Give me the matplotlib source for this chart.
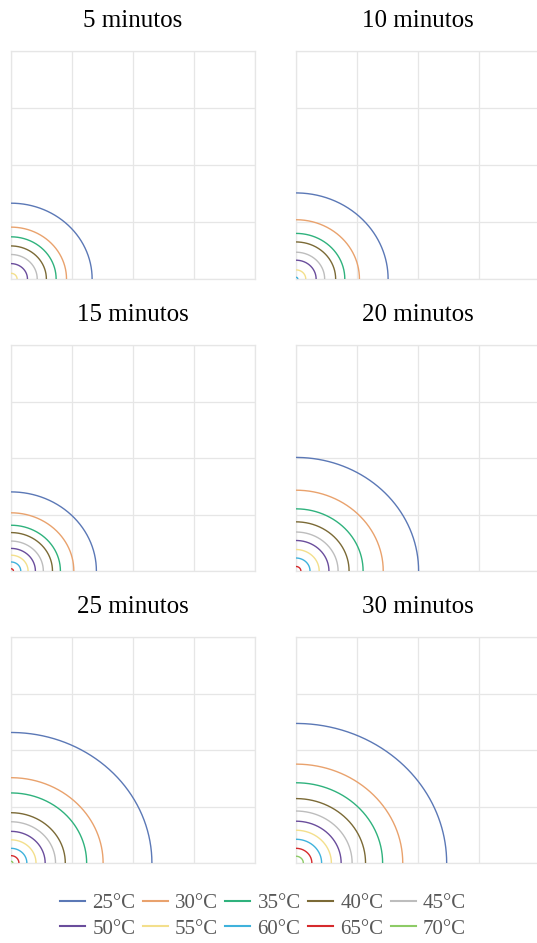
import numpy as np
import matplotlib
matplotlib.use("Agg")
import matplotlib.pyplot as plt
from matplotlib.lines import Line2D

plt.rcParams["font.family"] = ["Liberation Serif", "DejaVu Serif"]

# ── Data: front radius per temperature for each exposure time ──────────────────
temps = ["25°C", "30°C", "35°C", "40°C", "45°C",
         "50°C", "55°C", "60°C", "65°C", "70°C"]
colors = ["#5b78b6", "#e9a26d", "#2fb27d", "#7b6a36", "#bdbdbd",
          "#6a4d9c", "#f3df8c", "#3fb2dc", "#d62a2c", "#8dcb66"]

titles = ["5 minutos", "10 minutos", "15 minutos",
          "20 minutos", "25 minutos", "30 minutos"]

r_05 = [1.33, 0.91, 0.74, 0.58, 0.43, 0.27, 0.10, 0.00, 0.00, 0.00]
r_10 = [1.51, 1.04, 0.80, 0.65, 0.47, 0.33, 0.16, 0.03, 0.00, 0.00]
r_15 = [1.40, 1.03, 0.81, 0.68, 0.53, 0.40, 0.28, 0.16, 0.04, 0.00]
r_20 = [2.01, 1.43, 1.10, 0.87, 0.69, 0.54, 0.38, 0.23, 0.08, 0.00]
r_25 = [2.31, 1.51, 1.24, 0.89, 0.73, 0.56, 0.41, 0.26, 0.13, 0.03]
r_30 = [2.47, 1.75, 1.42, 1.14, 0.92, 0.74, 0.58, 0.42, 0.26, 0.12]
radii = [r_05, r_10, r_15, r_20, r_25, r_30]

# ── Layout (pixels) ────────────────────────────────────────────────────────────
W, H = 537, 943
lefts = [11, 296]
rows = [(51, 279), (345, 571), (637, 863)]

fig = plt.figure(figsize=(W / 100, H / 100), dpi=100)
theta = np.linspace(0, np.pi / 2, 300)

for i, (title, rs) in enumerate(zip(titles, radii)):
    top, bot = rows[i // 2]
    left = lefts[i % 2]
    ax = fig.add_axes([left / W, 1 - bot / H, 244 / W, (bot - top) / H])
    ax.set_xlim(0, 4)
    ax.set_ylim(0, 4)
    ax.set_xticks([0, 1, 2, 3, 4])
    ax.set_yticks([0, 1, 2, 3, 4])
    ax.grid(color="#e6e6e6", lw=0.9)
    ax.tick_params(length=0, labelbottom=False, labelleft=False)
    for s in ax.spines.values():
        s.set_color("#e6e6e6")
        s.set_linewidth(0.9)
    for r, c in zip(rs, colors):
        if r > 0:
            ax.plot(r * np.cos(theta), r * np.sin(theta), color=c, lw=1.0,
                    zorder=3)
    fig.text((left + 122) / W, 1 - (top - 30) / H, title,
             ha="center", va="center", fontsize=18)

# legend fills column by column, so interleave to get two rows of five
order = [0, 5, 1, 6, 2, 7, 3, 8, 4, 9]
handles = [Line2D([], [], color=colors[k], lw=1.5) for k in order]
labels = [temps[k] for k in order]
fig.legend(handles, labels, loc="center", ncol=5,
           bbox_to_anchor=(263 / W, 1 - 916 / H), frameon=False,
           fontsize=15, labelcolor="#595959", handlelength=1.2,
           handletextpad=0.35, columnspacing=0.35, labelspacing=0.28,
           borderpad=0)

fig.savefig("out.png", dpi=100)
